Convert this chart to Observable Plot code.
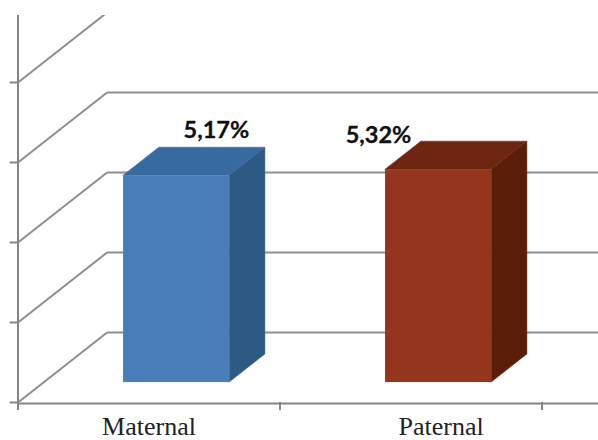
<!DOCTYPE html>
<html>
<head>
<meta charset="utf-8">
<script src="https://cdn.jsdelivr.net/npm/d3@7"></script>
<script src="https://cdn.jsdelivr.net/npm/@observablehq/plot@0.6"></script>
<style>
  html, body { margin: 0; padding: 0; background: #fff; }
  svg { display: block; }
</style>
</head>
<body>
<div id="chart"></div>
<script>
// Chart values
const categories = ["Maternal", "Paternal"];
const percentages = [5.17, 5.32];
const gridValues = [0, 2, 4, 6, 8];
const categoryTicks = [0, 1, 2];

// Face colours per bar
const frontColors = ["#4a7ebb", "#94361e"];
const topColors = ["#376a9f", "#6e2610"];
const sideColors = ["#2d5a84", "#5a1d08"];

// Oblique projection: one step of depth moves right in category units and up in value units
const depthX = 0.34;
const depthY = 1.75;
const barDepthFront = 0.285;
const barDepthBack = 0.686;
const barStart = 0.306;   // left edge of the bar inside its category, before depth
const barWidth = 0.405;
const xMax = 2.2156;
const yMax = 9.675;

// Label placement
const categoryLabelShift = [0, 0.115];
const valueLabelX = [0.757, 1.376];
const valueLabelLift = [1.455, 1.18];

const bars = categories.map((name, i) => {
  const left = i + barStart;
  return {
    name, i,
    value: percentages[i],
    x1: left + barDepthFront * depthX,
    x2: left + barWidth + barDepthFront * depthX,
    xb1: left + barDepthBack * depthX,
    xb2: left + barWidth + barDepthBack * depthX,
    base: barDepthFront * depthY,
    baseBack: barDepthBack * depthY,
    top: barDepthFront * depthY + percentages[i],
    topBack: barDepthBack * depthY + percentages[i]
  };
});

// Side and top faces are parallelograms spanned by their front and back edges
const sideFace = bars.flatMap(b => [
  {i: b.i, x: b.x2, y1: b.base, y2: b.top},
  {i: b.i, x: b.xb2, y1: b.baseBack, y2: b.topBack}
]);
const topFace = bars.flatMap(b => [
  {i: b.i, y: b.top, x1: b.x1, x2: b.x2},
  {i: b.i, y: b.topBack, x1: b.xb1, x2: b.xb2}
]);

const gridColor = "#8e8e8e";
const axisColor = "#858585";

const plot = Plot.plot({
  width: 598,
  height: 440,
  marginTop: 15,
  marginRight: 0,
  marginBottom: 38,
  marginLeft: 17.5,
  style: {background: "#fff"},
  x: {domain: [0, xMax], axis: null},
  y: {domain: [0, yMax], axis: null},
  marks: [
    // Floor and side wall diagonals, then the back wall lines
    Plot.link(gridValues, {
      x1: 0, y1: d => d, x2: depthX, y2: d => d + depthY,
      stroke: gridColor, strokeWidth: 2, clip: true
    }),
    Plot.link(gridValues, {
      x1: depthX, y1: d => d + depthY, x2: xMax, y2: d => d + depthY,
      stroke: gridColor, strokeWidth: 2, clip: true
    }),
    // Axes with outward ticks
    Plot.ruleX([0], {y1: -0.2, y2: yMax, stroke: axisColor, strokeWidth: 2}),
    Plot.ruleY([0], {x1: 0, x2: xMax, stroke: axisColor, strokeWidth: 2, dy: 1}),
    Plot.ruleY(gridValues, {x1: -0.03, x2: 0, stroke: axisColor, strokeWidth: 2}),
    Plot.ruleX(categoryTicks, {y1: 0, y2: -0.2, stroke: axisColor, strokeWidth: 2}),
    // Bars: side, top, front
    Plot.areaY(sideFace, {x: "x", y1: "y1", y2: "y2", z: "i", fill: d => sideColors[d.i], stroke: d => sideColors[d.i], strokeWidth: 0.5}),
    Plot.areaX(topFace, {y: "y", x1: "x1", x2: "x2", z: "i", fill: d => topColors[d.i], stroke: d => topColors[d.i], strokeWidth: 0.5}),
    Plot.rect(bars, {x1: "x1", x2: "x2", y1: "base", y2: "top", fill: d => frontColors[d.i]}),
    // Value labels
    Plot.text(bars, {
      x: d => valueLabelX[d.i],
      y: d => d.value + valueLabelLift[d.i],
      text: d => `${d.value.toFixed(2).replace(".", ",")}%`,
      fontFamily: "Lato", fontWeight: 700, fontSize: 23.5, fill: "#111",
      stroke: "#111", strokeWidth: 0.3,
      lineAnchor: "bottom"
    }),
    // Category labels
    Plot.text(bars, {
      x: d => d.i + 0.5 + categoryLabelShift[d.i],
      y: 0,
      dy: 32,
      text: "name",
      fontFamily: "Liberation Serif", fontSize: 26, fill: "#222",
      lineAnchor: "bottom"
    })
  ]
});

document.getElementById("chart").append(plot);
</script>
</body>
</html>
